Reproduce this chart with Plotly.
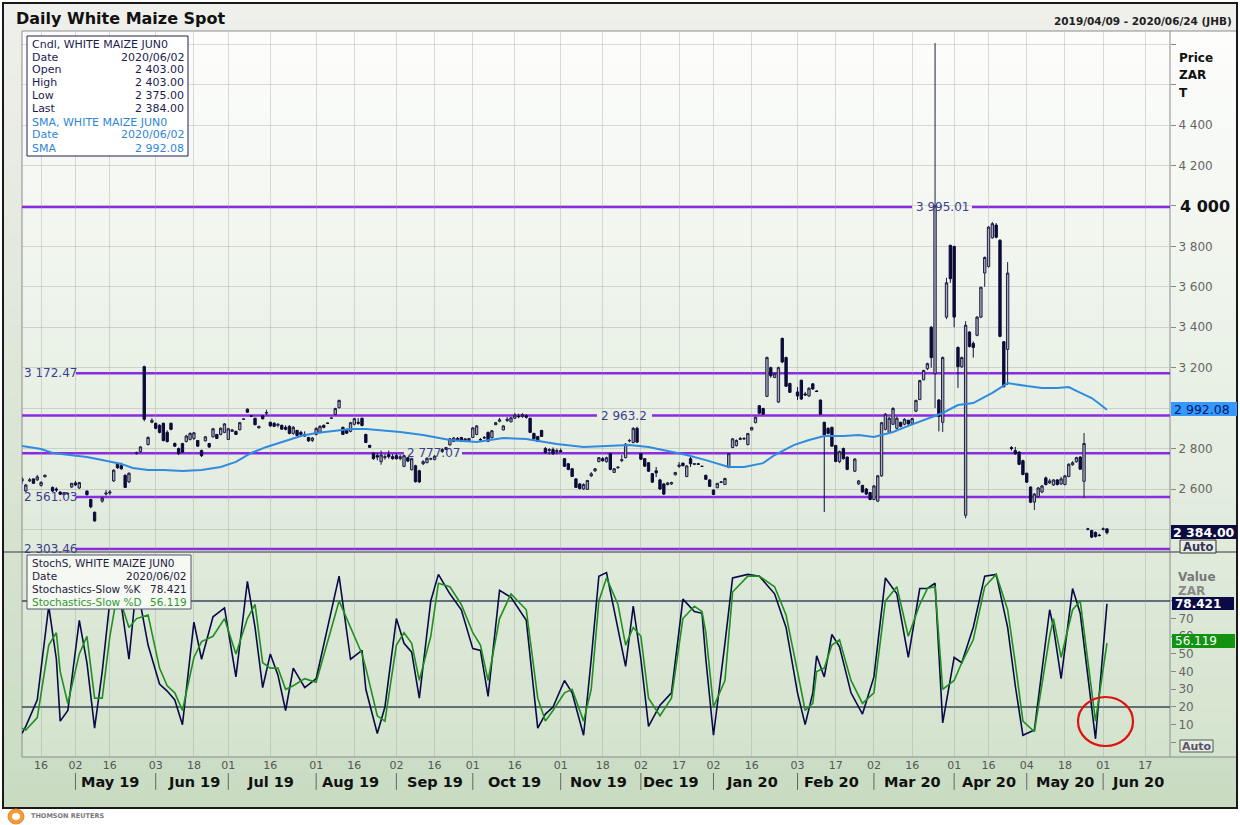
import pandas as pd
import plotly.graph_objects as go

W, H = 1240, 825
FONT = "DejaVu Sans"

# ---------------- trading calendar (axis domain) ----------------
HOLIDAYS = ["2019-04-19", "2019-04-22", "2019-05-01", "2019-05-08", "2019-06-17",
            "2019-08-09", "2019-09-24", "2019-12-16", "2019-12-25", "2019-12-26",
            "2020-01-01", "2020-03-20", "2020-04-10", "2020-04-13", "2020-04-27",
            "2020-05-01", "2020-06-16"]
SESSIONS = [d for d in pd.bdate_range("2019-04-09", "2020-06-26")
            if d.strftime("%Y-%m-%d") not in HOLIDAYS]

# ---------------- candles (session number since 2019/04/09) ----------------
candle_session = [0, 1, 2, 3, 4, 5, 6, 8, 9, 10,
                  11, 12, 13, 14, 15, 17, 18, 19, 21, 22,
                  23, 24, 25, 26, 27, 28, 30, 31, 32, 33,
                  34, 35, 36, 37, 38, 39, 40, 41, 42, 43,
                  44, 45, 46, 47, 48, 49, 50, 51, 52, 53,
                  54, 55, 56, 57, 58, 59, 60, 61, 62, 63,
                  64, 65, 66, 67, 68, 69, 70, 71, 72, 73,
                  74, 75, 76, 77, 78, 79, 80, 81, 82, 83,
                  84, 85, 86, 87, 88, 89, 90, 91, 92, 93,
                  94, 95, 96, 97, 98, 99, 100, 101, 102, 103,
                  104, 105, 106, 107, 108, 110, 111, 112, 113, 114,
                  115, 116, 117, 118, 119, 120, 121, 122, 123, 124,
                  125, 126, 127, 128, 129, 130, 131, 132, 133, 134,
                  135, 136, 137, 138, 139, 140, 141, 142, 143, 144,
                  145, 146, 147, 148, 149, 150, 151, 152, 153, 154,
                  155, 156, 157, 158, 159, 160, 161, 162, 163, 164,
                  165, 166, 167, 168, 169, 170, 171, 172, 173, 174,
                  175, 176, 177, 178, 179, 180, 181, 182, 183, 184,
                  185, 186, 187, 188, 189, 190, 191, 192, 193, 194,
                  195, 196, 197, 198, 199, 200, 201, 203, 204, 205,
                  206, 207, 208, 209, 210, 211, 212, 213, 214, 215,
                  216, 218, 219, 220, 221, 222, 223, 224, 225, 226,
                  227, 228, 229, 230, 231, 232, 233, 234, 235, 236,
                  237, 238, 239, 240, 241, 242, 243, 244, 245, 246,
                  247, 248, 249, 250, 251, 252, 253, 254, 255, 256,
                  257, 258, 259, 260, 261, 262, 263, 264, 265, 266,
                  267, 268, 269, 270, 271, 272, 273, 274, 275, 276,
                  277, 278, 279, 280, 281, 282, 283, 284]
candle_open = [2640, 2590, 2640, 2650, 2645, 2618, 2660, 2608, 2600, 2585,
               2572, 2578, 2610, 2630, 2605, 2590, 2548, 2485, 2540, 2575,
               2580, 2640, 2725, 2715, 2668, 2635, 2775, 2785, 3205, 2820,
               2930, 2925, 2915, 2925, 2880, 2925, 2825, 2800, 2825, 2835,
               2845, 2850, 2840, 2790, 2838, 2825, 2858, 2870, 2870, 2880,
               2845, 2885, 2885, 2893, 2945, 2995, 2962, 2950, 2902, 2962,
               2975, 2930, 2925, 2915, 2915, 2905, 2910, 2875, 2890, 2880,
               2870, 2855, 2840, 2870, 2880, 2915, 2926, 2950, 2968, 3002,
               2905, 2895, 2885, 2920, 2930, 2950, 2870, 2816, 2778, 2765,
               2735, 2755, 2770, 2760, 2765, 2750, 2712, 2755, 2695, 2715,
               2690, 2725, 2730, 2748, 2745, 2785, 2795, 2818, 2835, 2850,
               2855, 2840, 2840, 2855, 2870, 2845, 2855, 2880, 2854, 2918,
               2935, 2892, 2938, 2932, 2950, 2960, 2958, 2962, 2950, 2875,
               2860, 2890, 2800, 2790, 2795, 2785, 2790, 2750, 2725, 2700,
               2650, 2625, 2600, 2598, 2665, 2690, 2735, 2750, 2735, 2775,
               2682, 2705, 2740, 2755, 2838, 2830, 2900, 2775, 2750, 2730,
               2676, 2690, 2645, 2625, 2622, 2625, 2670, 2712, 2728, 2662,
               2750, 2722, 2725, 2712, 2668, 2645, 2595, 2606, 2632, 2622,
               2706, 2805, 2815, 2845, 2850, 2820, 2892, 2928, 3012, 2998,
               3058, 3200, 3152, 3030, 3345, 3250, 3122, 3080, 3138, 3070,
               3060, 3120, 3085, 3040, 2930, 2900, 2905, 2815, 2735, 2800,
               2758, 2688, 2625, 2618, 2600, 2583, 2548, 2540, 2665, 2895,
               2880, 2920, 2900, 2930, 2920, 2940, 2925, 2985, 3042, 3140,
               3195, 3400, 3170, 3040, 2930, 3450, 3805, 3800, 3300, 3205,
               2470, 3376, 3320, 3360, 3450, 3668, 3700, 3842, 3905, 3830,
               3328, 3290, 2805, 2790, 2783, 2740, 2678, 2610, 2535, 2562,
               2585, 2655, 2630, 2620, 2645, 2625, 2622, 2662, 2720, 2735,
               2758, 2638, 2400, 2395, 2385, 2372, 2400, 2403]
candle_high = [2660, 2625, 2655, 2652, 2670, 2638, 2672, 2612, 2608, 2588,
               2585, 2582, 2630, 2640, 2635, 2592, 2552, 2488, 2562, 2595,
               2595, 2698, 2732, 2730, 2672, 2682, 2785, 2812, 3210, 2860,
               2950, 2928, 2920, 2928, 2890, 2928, 2830, 2805, 2828, 2868,
               2880, 2882, 2842, 2795, 2862, 2828, 2902, 2872, 2905, 2926,
               2902, 2897, 2888, 2932, 2948, 2998, 2965, 2952, 2912, 2964,
               2992, 2932, 2930, 2925, 2918, 2915, 2916, 2912, 2892, 2888,
               2885, 2858, 2857, 2905, 2915, 2918, 2928, 2953, 3002, 3042,
               2908, 2898, 2932, 2952, 2950, 2952, 2873, 2818, 2780, 2778,
               2790, 2772, 2790, 2772, 2778, 2770, 2770, 2758, 2755, 2720,
               2695, 2743, 2758, 2755, 2768, 2803, 2808, 2852, 2857, 2857,
               2857, 2852, 2852, 2906, 2916, 2852, 2862, 2884, 2892, 2932,
               2952, 2916, 2956, 2956, 2976, 2972, 2975, 2970, 2952, 2878,
               2862, 2892, 2808, 2802, 2805, 2800, 2800, 2753, 2728, 2704,
               2654, 2630, 2628, 2645, 2684, 2704, 2758, 2758, 2760, 2780,
               2704, 2712, 2768, 2827, 2848, 2906, 2908, 2778, 2753, 2733,
               2679, 2709, 2650, 2630, 2635, 2636, 2684, 2733, 2730, 2718,
               2758, 2728, 2728, 2714, 2670, 2648, 2597, 2630, 2638, 2656,
               2778, 2852, 2845, 2857, 2856, 2878, 2906, 2957, 3015, 3002,
               3255, 3205, 3175, 3205, 3348, 3255, 3125, 3104, 3140, 3080,
               3104, 3124, 3088, 3042, 2932, 2905, 2908, 2818, 2790, 2805,
               2760, 2753, 2645, 2620, 2605, 2585, 2620, 2670, 2932, 2976,
               2956, 3005, 2958, 2932, 2950, 2942, 2952, 3042, 3140, 3190,
               3225, 3405, 4805, 3045, 3255, 3645, 3808, 3802, 3305, 3255,
               3430, 3380, 3330, 3455, 3600, 3750, 3900, 3920, 3915, 3835,
               3332, 3722, 2812, 2808, 2786, 2745, 2680, 2612, 2580, 2610,
               2620, 2662, 2650, 2648, 2648, 2660, 2670, 2728, 2738, 2760,
               2762, 2877, 2408, 2398, 2390, 2378, 2410, 2403]
candle_low = [2625, 2585, 2635, 2625, 2640, 2612, 2658, 2585, 2585, 2570,
              2570, 2572, 2605, 2615, 2600, 2568, 2505, 2438, 2532, 2568,
              2570, 2635, 2700, 2695, 2605, 2630, 2770, 2780, 2935, 2815,
              2925, 2895, 2875, 2835, 2830, 2890, 2808, 2768, 2778, 2830,
              2840, 2842, 2808, 2758, 2835, 2803, 2855, 2847, 2865, 2876,
              2842, 2882, 2867, 2890, 2943, 2976, 2958, 2915, 2900, 2945,
              2966, 2908, 2906, 2905, 2893, 2890, 2870, 2868, 2860, 2862,
              2858, 2833, 2832, 2865, 2875, 2900, 2922, 2948, 2965, 2998,
              2867, 2872, 2880, 2915, 2918, 2910, 2827, 2803, 2745, 2742,
              2720, 2745, 2750, 2745, 2745, 2742, 2708, 2733, 2692, 2632,
              2630, 2718, 2728, 2742, 2743, 2778, 2793, 2815, 2832, 2835,
              2832, 2832, 2837, 2852, 2866, 2838, 2848, 2832, 2850, 2916,
              2930, 2890, 2932, 2930, 2946, 2950, 2952, 2948, 2877, 2845,
              2832, 2857, 2775, 2770, 2768, 2772, 2780, 2709, 2693, 2659,
              2605, 2598, 2595, 2595, 2659, 2684, 2733, 2735, 2730, 2693,
              2679, 2700, 2733, 2752, 2830, 2826, 2827, 2743, 2709, 2684,
              2630, 2659, 2595, 2570, 2618, 2620, 2668, 2704, 2712, 2658,
              2709, 2718, 2720, 2710, 2645, 2610, 2570, 2605, 2630, 2620,
              2703, 2802, 2810, 2842, 2845, 2815, 2890, 2925, 2970, 2966,
              3055, 3150, 3148, 3025, 3222, 3105, 3075, 3040, 3040, 3062,
              3055, 3090, 3080, 2968, 2486, 2870, 2808, 2733, 2728, 2745,
              2693, 2684, 2620, 2582, 2570, 2545, 2545, 2535, 2660, 2890,
              2877, 2916, 2895, 2905, 2915, 2918, 2920, 2980, 3040, 3138,
              3188, 3200, 3000, 2885, 2882, 3440, 3620, 3400, 3100, 3198,
              2455, 3300, 3250, 3355, 3445, 3600, 3695, 3838, 3840, 3350,
              3102, 3114, 2790, 2768, 2718, 2668, 2630, 2530, 2496, 2558,
              2580, 2618, 2625, 2615, 2618, 2620, 2618, 2658, 2715, 2730,
              2695, 2555, 2395, 2358, 2360, 2365, 2395, 2375]
candle_close = [2650, 2620, 2645, 2628, 2660, 2633, 2668, 2590, 2595, 2574,
                2582, 2576, 2628, 2620, 2632, 2572, 2512, 2442, 2555, 2580,
                2585, 2693, 2705, 2700, 2608, 2678, 2780, 2808, 2945, 2855,
                2940, 2900, 2880, 2840, 2835, 2895, 2812, 2775, 2782, 2862,
                2875, 2878, 2812, 2765, 2858, 2808, 2898, 2850, 2900, 2922,
                2898, 2892, 2870, 2928, 2946, 2980, 2960, 2918, 2910, 2947,
                2978, 2912, 2910, 2920, 2896, 2895, 2875, 2905, 2865, 2870,
                2862, 2838, 2852, 2900, 2910, 2905, 2925, 2951, 2998, 3038,
                2870, 2876, 2928, 2948, 2925, 2914, 2830, 2806, 2750, 2758,
                2768, 2760, 2760, 2750, 2750, 2760, 2765, 2738, 2750, 2636,
                2635, 2735, 2752, 2750, 2762, 2795, 2805, 2848, 2852, 2840,
                2836, 2848, 2850, 2902, 2912, 2843, 2853, 2836, 2888, 2928,
                2942, 2912, 2945, 2952, 2965, 2958, 2968, 2955, 2880, 2848,
                2836, 2860, 2780, 2795, 2775, 2790, 2785, 2712, 2697, 2662,
                2608, 2602, 2622, 2642, 2675, 2700, 2755, 2740, 2755, 2697,
                2700, 2708, 2745, 2822, 2840, 2900, 2832, 2747, 2713, 2688,
                2634, 2680, 2600, 2575, 2630, 2632, 2682, 2718, 2715, 2714,
                2725, 2725, 2722, 2712, 2648, 2613, 2573, 2628, 2635, 2652,
                2775, 2848, 2840, 2850, 2848, 2874, 2905, 2955, 2975, 2970,
                3250, 3160, 3170, 3200, 3228, 3108, 3078, 3060, 3045, 3065,
                3098, 3095, 3082, 2970, 2868, 2875, 2812, 2736, 2785, 2750,
                2697, 2748, 2640, 2585, 2575, 2548, 2615, 2665, 2928, 2970,
                2950, 2998, 2950, 2910, 2945, 2922, 2948, 3038, 3136, 3186,
                3220, 3250, 4000, 2960, 3250, 3620, 3640, 3450, 3205, 3250,
                3410, 3305, 3300, 3450, 3598, 3745, 3895, 3912, 3845, 3355,
                3106, 3668, 2800, 2775, 2722, 2672, 2634, 2535, 2575, 2605,
                2615, 2622, 2640, 2645, 2622, 2650, 2665, 2722, 2730, 2755,
                2698, 2825, 2403, 2362, 2365, 2370, 2403, 2384]

# ---------------- SMA ----------------
sma_session = [0, 5, 8, 13, 17, 21, 26, 29, 33, 37, 42, 47, 52, 56, 60, 64, 68, 73, 77, 81,
               86, 90, 94, 99, 105, 112, 119, 126, 132, 140, 147, 153, 159, 164, 168, 174,
               179, 185, 189, 194, 197, 202, 206, 210, 215, 219, 223, 228, 232, 236, 241,
               245, 249, 254, 258, 263, 267, 271, 274, 276, 280, 282, 284]
sma_value = [2813, 2798, 2778, 2768, 2758, 2743, 2724, 2704, 2694, 2694, 2689, 2694, 2709,
             2734, 2778, 2808, 2832, 2862, 2877, 2887, 2897, 2897, 2892, 2882, 2867, 2842,
             2832, 2852, 2847, 2822, 2808, 2813, 2817, 2808, 2793, 2768, 2743, 2709, 2709,
             2728, 2768, 2817, 2842, 2862, 2862, 2867, 2857, 2882, 2912, 2941, 2976, 3015,
             3025, 3075, 3124, 3109, 3099, 3099, 3104, 3085, 3050, 3022, 2992.08]

# ---------------- Slow stochastics ----------------
stoch_session = [0, 1, 4, 7, 9, 10, 12, 15, 17, 19,
                 21, 23, 25, 28, 30, 33, 36, 38, 40, 42,
                 45, 47, 50, 53, 56, 59, 61, 63, 65, 67,
                 69, 71, 74, 77, 83, 86, 89, 90, 93, 95,
                 98, 100, 102, 104, 107, 109, 112, 115, 118, 120,
                 122, 125, 128, 132, 135, 137, 139, 142, 144, 147,
                 149, 151, 153, 156, 158, 160, 162, 164, 167, 170,
                 173, 176, 178, 179, 181, 184, 186, 190, 193, 197,
                 200, 203, 205, 207, 208, 210, 212, 214, 217, 220,
                 223, 226, 229, 232, 235, 237, 239, 241, 244, 246,
                 249, 252, 255, 258, 260, 262, 265, 269, 270, 272,
                 275, 277, 281, 284]
stoch_k = [5, 9, 24, 77, 47, 12, 18, 69, 45, 8,
           40, 80, 93, 47, 90, 55, 33, 29, 24, 10,
           68, 47, 71, 76, 37, 91, 65, 31, 50, 38,
           18, 42, 31, 36, 94, 47, 52, 30, 5, 20,
           70, 56, 51, 25, 80, 95, 84, 75, 53, 52,
           26, 86, 82, 69, 8, 16, 20, 35, 28, 4,
           47, 94, 96, 65, 43, 77, 47, 9, 21, 28,
           81, 74, 73, 47, 4, 56, 93, 95, 94, 84,
           65, 28, 10, 28, 49, 37, 61, 54, 28, 16,
           37, 93, 84, 48, 87, 87, 90, 11, 48, 45,
           65, 94, 95, 65, 32, 4, 7, 75, 65, 36,
           87, 73, 2, 78.421]
stoch_d = [8, 7, 14, 55, 62, 40, 22, 50, 60, 25,
           25, 60, 85, 65, 70, 72, 42, 32, 28, 18,
           48, 57, 60, 70, 50, 70, 78, 45, 42, 42,
           30, 32, 36, 34, 80, 65, 50, 42, 15, 12,
           55, 62, 56, 35, 60, 90, 88, 78, 62, 55,
           35, 70, 84, 75, 25, 12, 18, 28, 30, 12,
           30, 80, 93, 78, 55, 65, 60, 25, 15, 25,
           70, 77, 74, 62, 20, 35, 85, 94, 94, 88,
           72, 40, 18, 22, 40, 42, 55, 58, 35, 22,
           28, 80, 88, 60, 78, 87, 88, 30, 35, 45,
           58, 88, 95, 75, 45, 12, 6, 60, 70, 48,
           75, 80, 12, 56.119]

# ---------------- levels & axis labels ----------------
LEVELS = [3995.01, 3172.47, 2963.2, 2777.07, 2561.03, 2303.46]
LEVEL_TEXT = ["3 995.01", "3 172.47", "2 963.2", "2 777.07", "2 561.03", "2 303.46"]

PRICE_TICKS = [2400, 2600, 2800, 3000, 3200, 3400, 3600, 3800, 4000, 4200, 4400, 4600, 4800]
PRICE_TICK_TEXT = ["", "2 600", "2 800", "", "3 200", "3 400", "3 600", "3 800", "", "4 200",
                   "4 400", "", ""]
STOCH_TICKS = [0, 10, 20, 30, 40, 50, 60, 70, 80]
STOCH_TICK_TEXT = ["", "10", "20", "30", "40", "50", "60", "70", ""]

TICK_DATES = ["2019-04-16", "2019-05-02", "2019-05-16", "2019-06-03", "2019-06-18",
              "2019-07-01", "2019-07-16", "2019-08-01", "2019-08-16", "2019-09-02",
              "2019-09-16", "2019-10-01", "2019-10-16", "2019-11-01", "2019-11-18",
              "2019-12-02", "2019-12-17", "2020-01-02", "2020-01-16", "2020-02-03",
              "2020-02-17", "2020-03-02", "2020-03-16", "2020-04-01", "2020-04-16",
              "2020-05-04", "2020-05-18", "2020-06-01", "2020-06-17"]
TICK_TEXT = ["16", "02", "16", "03", "18", "01", "16", "01", "16", "02", "16", "01", "16",
             "01", "18", "02", "17", "02", "16", "03", "17", "02", "16", "01", "16", "04",
             "18", "01", "17"]
MONTH_START = ["2019-05-02", "2019-06-03", "2019-07-01", "2019-08-01", "2019-09-02",
               "2019-10-01", "2019-11-01", "2019-12-02", "2020-01-02", "2020-02-03",
               "2020-03-02", "2020-04-01", "2020-05-04", "2020-06-01"]
MONTH_MID = ["2019-05-16", "2019-06-18", "2019-07-16", "2019-08-15", "2019-09-16",
             "2019-10-16", "2019-11-15", "2019-12-12", "2020-01-16", "2020-02-14",
             "2020-03-16", "2020-04-16", "2020-05-18", "2020-06-12"]
MONTH_TEXT = ["May 19", "Jun 19", "Jul 19", "Aug 19", "Sep 19", "Oct 19", "Nov 19",
              "Dec 19", "Jan 20", "Feb 20", "Mar 20", "Apr 20", "May 20", "Jun 20"]

INFO_ROWS = [("Cndl, WHITE MAIZE JUN0", ""), ("Date", "2020/06/02"), ("Open", "2 403.00"),
             ("High", "2 403.00"), ("Low", "2 375.00"), ("Last", "2 384.00"),
             ("SMA, WHITE MAIZE JUN0", ""), ("Date", "2020/06/02"), ("SMA", "2 992.08")]
STOCH_ROWS = [("StochS, WHITE MAIZE JUN0", ""), ("Date", "2020/06/02"),
              ("Stochastics-Slow %K", "78.421"), ("Stochastics-Slow %D", "56.119")]


def on_axis(idx_list):
    return [(SESSIONS[i] + pd.Timedelta(hours=12)).strftime("%Y-%m-%d %H:%M") for i in idx_list]


def noon(dates):
    return [d + " 12:00" for d in dates]


def X(px):
    return px / W


def Y(py):
    return 1 - py / H


def mix(c1, c2, f):
    a = [int(c1[i:i + 2], 16) for i in (1, 3, 5)]
    b = [int(c2[i:i + 2], 16) for i in (1, 3, 5)]
    return "#" + "".join(f"{round(a[k] + (b[k] - a[k]) * f):02x}" for k in range(3))


shapes = []
anns = []


def gradient(x0, x1, y0, y1, ctop, cbot, n=45):
    h = (y1 - y0) / n
    for i in range(n):
        ya = y0 + i * h
        yb = min(y1, ya + h + 1)
        shapes.append(dict(type="rect", xref="paper", yref="paper", x0=X(x0), x1=X(x1),
                           y0=Y(yb), y1=Y(ya), fillcolor=mix(ctop, cbot, i / (n - 1)),
                           line=dict(width=0), layer="below"))


def rect(x0, y0, x1, y1, fill=None, line="#000", lw=1, layer="below"):
    shapes.append(dict(type="rect", xref="paper", yref="paper", x0=X(x0), x1=X(x1),
                       y0=Y(y1), y1=Y(y0), fillcolor=fill or "rgba(0,0,0,0)",
                       line=dict(color=line, width=lw), layer=layer))


def seg(x0, y0, x1, y1, color, lw=1, layer="below"):
    shapes.append(dict(type="line", xref="paper", yref="paper", x0=X(x0), x1=X(x1),
                       y0=Y(y0), y1=Y(y1), line=dict(color=color, width=lw), layer=layer))


def note(x, y, text, size=11, color="#000", bold=False, xanchor="left", bg=None,
         yref="paper"):
    anns.append(dict(xref="paper", yref=yref, x=X(x), y=(Y(y) if yref == "paper" else y),
                     text=(f"<b>{text}</b>" if bold else text), showarrow=False,
                     xanchor=xanchor, yanchor="middle", borderpad=0,
                     bgcolor=bg or "rgba(0,0,0,0)",
                     font=dict(family=FONT, size=size, color=color)))


# backgrounds
gradient(3, 1237, 3, 808, "#efefeb", "#c9dcc2")
gradient(22, 1237, 31, 757, "#fdfdfc", "#d4e3ce")
rect(22, 31, 1237, 757, line="#8c8c8c", lw=1)
seg(1170, 31, 1170, 757, "#8c8c8c", 1)
seg(3, 552, 1237, 552, "#6e6e6e", 1.5)
rect(3, 3, 1237, 808, line="#1a1a1a", lw=2)

# price level lines (gap where the label sits)
LABEL_GAP = [(912, 972), (22, 76), (597, 652), (404, 462), (22, 76), (22, 76)]
LABEL_POS = [(942, "center"), (23, "left"), (624, "center"), (433, "center"),
             (23, "left"), (23, "left")]
for lv, txt, (g0, g1), (lx, la) in zip(LEVELS, LEVEL_TEXT, LABEL_GAP, LABEL_POS):
    for a, b in ((22, g0), (g1, 1170)):
        if b - a > 2:
            shapes.append(dict(type="line", xref="paper", yref="y", x0=X(a), x1=X(b),
                               y0=lv, y1=lv, line=dict(color="#8a2be2", width=2.5),
                               layer="between"))
    note(lx, lv, txt, size=12, color="#3d3d8f", xanchor=la, yref="y")

# stochastic 80 / 20 reference lines
for lv in (80, 20):
    shapes.append(dict(type="line", xref="paper", yref="y2", x0=X(22), x1=X(1170),
                       y0=lv, y1=lv, line=dict(color="#37475a", width=1.5),
                       layer="between"))

# month separators
for d in noon(MONTH_START):
    shapes.append(dict(type="line", xref="x2", yref="paper", x0=d, x1=d, y0=Y(773),
                       y1=Y(790), line=dict(color="#666666", width=1), layer="above"))
for d, t in zip(noon(MONTH_MID), MONTH_TEXT):
    anns.append(dict(xref="x2", yref="paper", x=d, y=Y(782), text=f"<b>{t}</b>",
                     showarrow=False, xanchor="center", yanchor="middle",
                     font=dict(family=FONT, size=14.5, color="#111111")))

# info boxes
rect(27, 36, 188, 156, fill="#ffffff", line="#202050", lw=1, layer="above")
for i, (lab, val) in enumerate(INFO_ROWS):
    col = "#1c1c50" if i < 6 else "#2f86d8"
    y = 44 + 13 * i
    note(31, y, lab, size=11, color=col)
    if val:
        note(185, y, val, size=11, color=col, xanchor="right")

rect(27, 555, 191, 609, fill="#f6f8f4", line="#555566", lw=1, layer="above")
for i, (lab, val) in enumerate(STOCH_ROWS):
    col = "#1c1c3c" if i < 3 else "#2e9a2e"
    y = 563 + 13 * i
    note(31, y, lab, size=10.5, color=col)
    if val:
        note(188, y, val, size=10.5, color=col, xanchor="right")

# headers
note(15, 18, "Daily White Maize Spot", size=16, color="#111111", bold=True)
note(1233, 21, "2019/04/09 - 2020/06/24 (JHB)", size=10.5, color="#222222", bold=True,
     xanchor="right")
note(1178, 58, "Price", size=12, color="#111111", bold=True)
note(1178, 75, "ZAR", size=12, color="#111111", bold=True)
note(1178, 93, "T", size=12, color="#111111", bold=True)
note(1179, 206, "4 000", size=16, color="#111111", bold=True)
note(1177, 577, "Value", size=12, color="#777777", bold=True)
note(1177, 591, "ZAR", size=12, color="#8a8a8a", bold=True)

# right-hand value tags
rect(1171, 402, 1237, 416, fill="#3399ff", line="#3399ff", lw=0, layer="above")
note(1173, 409, "2 992.08", size=12.5, color="#0c1560")
rect(1171, 525, 1237, 539, fill="#0b0b40", line="#0b0b40", lw=0, layer="above")
note(1172, 532, "2 384.00", size=12.5, color="#ffffff", bold=True)
rect(1180, 540, 1216, 553, fill="#e8eee4", line="#333333", lw=1, layer="above")
note(1198, 547, "Auto", size=11.5, color="#333355", bold=True, xanchor="center")
rect(1172, 597, 1234, 610, fill="#0a0a46", line="#0a0a46", lw=0, layer="above")
note(1174, 603.5, "78.421", size=12, color="#ffffff", bold=True)
rect(1172, 634, 1235, 648, fill="#119311", line="#119311", lw=0, layer="above")
note(1174, 641, "56.119", size=12, color="#ffffff")
rect(1180, 740, 1213, 752, fill="#e8eee4", line="#555555", lw=1, layer="above")
note(1196.5, 746, "Auto", size=11, color="#555566", bold=True, xanchor="center")

# highlight circle
shapes.append(dict(type="circle", xref="paper", yref="paper", x0=X(1078), x1=X(1133),
                   y0=Y(746), y1=Y(697), line=dict(color="#e01010", width=2.2),
                   layer="above"))

# footer logo
shapes.append(dict(type="circle", xref="paper", yref="paper", x0=X(8), x1=X(24),
                   y0=Y(824), y1=Y(809), fillcolor="#f39a3a", line=dict(color="#e9842a", width=1),
                   layer="above"))
shapes.append(dict(type="circle", xref="paper", yref="paper", x0=X(12), x1=X(20),
                   y0=Y(820), y1=Y(813), fillcolor="#ffffff", line=dict(width=0),
                   layer="above"))
note(30, 816, "THOMSON REUTERS", size=6.5, color="#777777", bold=True)

# ---------------- traces ----------------
fig = go.Figure()
fig.add_trace(go.Candlestick(
    x=on_axis(candle_session), open=candle_open, high=candle_high, low=candle_low,
    close=candle_close, xaxis="x", yaxis="y", whiskerwidth=0, hoverinfo="skip",
    increasing=dict(line=dict(color="#1e1e44", width=1), fillcolor="#a9a9b8"),
    decreasing=dict(line=dict(color="#0b0b3a", width=1), fillcolor="#0b0b3a"),
    showlegend=False))
fig.add_trace(go.Scatter(x=on_axis(sma_session), y=sma_value, mode="lines",
                         line=dict(color="#2e8be0", width=2), xaxis="x", yaxis="y",
                         hoverinfo="skip", showlegend=False))
fig.add_trace(go.Scatter(x=on_axis(stoch_session), y=stoch_k, mode="lines",
                         line=dict(color="#0a0a4a", width=1.6), xaxis="x2", yaxis="y2",
                         hoverinfo="skip", showlegend=False))
fig.add_trace(go.Scatter(x=on_axis(stoch_session), y=stoch_d, mode="lines",
                         line=dict(color="#1f8f1f", width=1.6), xaxis="x2", yaxis="y2",
                         hoverinfo="skip", showlegend=False))

GRID = "rgba(150,158,150,0.35)"
rb = [dict(bounds=["sat", "mon"]), dict(values=HOLIDAYS)]
xr = ["2019-04-09 12:00", "2020-06-26 00:00"]

fig.update_layout(
    width=W, height=H, margin=dict(l=0, r=0, t=0, b=0),
    paper_bgcolor="#ffffff", plot_bgcolor="rgba(0,0,0,0)",
    showlegend=False, hovermode=False, boxgap=0.12,
    font=dict(family=FONT),
    xaxis=dict(domain=[X(22), X(1170)], anchor="y", type="date", range=xr, rangebreaks=rb,
               tickmode="array", tickvals=noon(TICK_DATES), showticklabels=False,
               showgrid=True, gridcolor=GRID, gridwidth=1, zeroline=False, showline=False,
               rangeslider=dict(visible=False)),
    xaxis2=dict(domain=[X(22), X(1170)], anchor="y2", type="date", range=xr, rangebreaks=rb,
                matches="x", tickmode="array", tickvals=noon(TICK_DATES), ticktext=TICK_TEXT,
                tickfont=dict(family=FONT, size=11, color="#555555"),
                ticks="", showgrid=True, gridcolor=GRID, gridwidth=1, zeroline=False,
                showline=False),
    yaxis=dict(domain=[Y(551), Y(32)], anchor="x", side="right", range=[2293.4, 4860],
               tickmode="array", tickvals=PRICE_TICKS, ticktext=PRICE_TICK_TEXT,
               tickfont=dict(family=FONT, size=12, color="#666666"),
               ticks="outside", ticklen=5, tickcolor="#888888",
               showgrid=True, gridcolor=GRID, gridwidth=1, zeroline=False, showline=False),
    yaxis2=dict(domain=[Y(757), Y(553)], anchor="x2", side="right", range=[-8.3, 107.1],
                tickmode="array", tickvals=STOCH_TICKS, ticktext=STOCH_TICK_TEXT,
                tickfont=dict(family=FONT, size=12, color="#666666"),
                ticks="outside", ticklen=5, tickcolor="#888888",
                showgrid=False, zeroline=False, showline=False),
    shapes=shapes, annotations=anns,
)

fig.write_html("out.html", config={"displayModeBar": False},
               post_script="document.body.style.margin='0';document.body.style.overflow='hidden';")
